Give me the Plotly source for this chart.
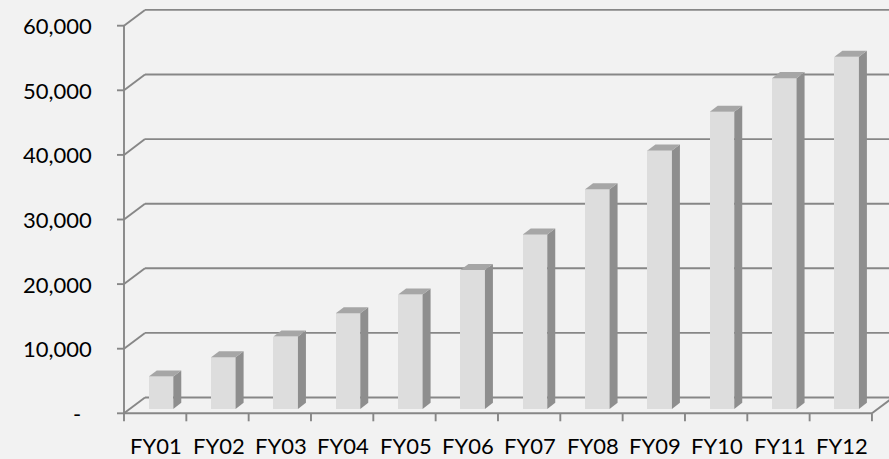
import plotly.graph_objects as go

# ---- data ----
categories = ["FY01", "FY02", "FY03", "FY04", "FY05", "FY06",
              "FY07", "FY08", "FY09", "FY10", "FY11", "FY12"]
values = [5000, 8000, 11200, 14800, 17700, 21500,
          27000, 34000, 40000, 46000, 51200, 54500]
tick_vals = [0, 10000, 20000, 30000, 40000, 50000, 60000]
tick_text = ["-\u00a0\u00a0", "10,000", "20,000", "30,000", "40,000", "50,000", "60,000"]

# ---- oblique 3D geometry (in axis units) ----
W, H = 889, 459
PX_PER_CAT = 62.33          # horizontal pixels per category slot
UNITS_PER_PX = 154.8        # value units per vertical pixel
X_LEFT_PX, Y_ZERO_PX = 124, 413.3

depth_dx = 21 / PX_PER_CAT           # full floor depth, x component
depth_dy = 15.8 * UNITS_PER_PX       # full floor depth, y component
bar_front = 0.28                     # bar front plane as fraction of depth
bar_depth = 0.38                     # bar thickness as fraction of depth
bar_width = 0.393

x_range = [-0.5 - X_LEFT_PX / PX_PER_CAT, -0.5 + (W - X_LEFT_PX) / PX_PER_CAT]
y_range = [-(H - Y_ZERO_PX) * UNITS_PER_PX, Y_ZERO_PX * UNITS_PER_PX]

grid_col = "#878787"
front_col, side_col, top_col = "#dddddd", "#8e8e8e", "#a6a6a6"
n = len(categories)
x_front = -0.5
x_end = n - 0.5

fig = go.Figure()

# ---- walls: gridlines on the back wall and diagonals on the side wall ----
shapes = []
line = dict(color=grid_col, width=1.9)
for v in tick_vals:
    shapes.append(dict(type="line", layer="below", xref="x", yref="y",
                       x0=x_front, y0=v, x1=x_front + depth_dx, y1=v + depth_dy, line=line))
    shapes.append(dict(type="line", layer="below", xref="x", yref="y",
                       x0=x_front + depth_dx, y0=v + depth_dy, x1=x_range[1] + 1,
                       y1=v + depth_dy, line=line))
    # y tick marks
    shapes.append(dict(type="line", layer="below", xref="x", yref="y",
                       x0=x_front - 7 / PX_PER_CAT, y0=v, x1=x_front, y1=v, line=line))
# vertical value axis
shapes.append(dict(type="line", layer="below", xref="x", yref="y",
                   x0=x_front, y0=0, x1=x_front, y1=tick_vals[-1], line=line))
# floor front edge and right edge
shapes.append(dict(type="line", layer="below", xref="x", yref="y",
                   x0=x_front, y0=0, x1=x_end, y1=0, line=line))
shapes.append(dict(type="line", layer="below", xref="x", yref="y",
                   x0=x_end, y0=0, x1=x_end + depth_dx, y1=depth_dy, line=line))
# category tick marks
for i in range(n + 1):
    xb = x_front + i
    shapes.append(dict(type="line", layer="below", xref="x", yref="y",
                       x0=xb, y0=0, x1=xb, y1=-8 * UNITS_PER_PX, line=line))

# ---- bars ----
base = bar_front * depth_dy
shift = bar_front * depth_dx
bx = [i + shift for i in range(n)]
fig.add_trace(go.Bar(x=bx, y=values, base=[base] * n, width=bar_width,
                     marker=dict(color=front_col, line=dict(width=0)),
                     hoverinfo="skip", showlegend=False))

ddx, ddy = bar_depth * depth_dx, bar_depth * depth_dy
for xc, v in zip(bx, values):
    xl, xr = xc - bar_width / 2, xc + bar_width / 2
    top = base + v
    # right side face
    fig.add_trace(go.Scatter(
        x=[xr, xr, xr + ddx, xr + ddx, xr],
        y=[base, top, top + ddy, base + ddy, base],
        fill="toself", fillcolor=side_col, mode="lines", line=dict(width=0),
        hoverinfo="skip", showlegend=False))
    # top face
    fig.add_trace(go.Scatter(
        x=[xl, xr, xr + ddx, xl + ddx, xl],
        y=[top, top, top + ddy, top + ddy, top],
        fill="toself", fillcolor=top_col, mode="lines", line=dict(width=0),
        hoverinfo="skip", showlegend=False))

# ---- labels ----
font = dict(family="Lato", size=22, color="#000000")
annotations = []
for v, t in zip(tick_vals, tick_text):
    annotations.append(dict(x=x_front, y=v, xref="x", yref="y", text=t,
                            showarrow=False, xanchor="right", yanchor="middle",
                            xshift=-31, font=font, borderpad=0))
for i, c in enumerate(categories):
    annotations.append(dict(x=i + 0.02, y=-32.3 * UNITS_PER_PX, xref="x", yref="y", text=c,
                            showarrow=False, xanchor="center", yanchor="middle",
                            font=font, borderpad=0))

fig.update_layout(
    width=W, height=H,
    margin=dict(l=0, r=0, t=0, b=0),
    paper_bgcolor="#f2f2f2", plot_bgcolor="#f2f2f2",
    xaxis=dict(range=x_range, visible=False, fixedrange=True),
    yaxis=dict(range=y_range, visible=False, fixedrange=True),
    shapes=shapes, annotations=annotations,
    bargap=0, showlegend=False,
)

fig.write_html("out.html")
